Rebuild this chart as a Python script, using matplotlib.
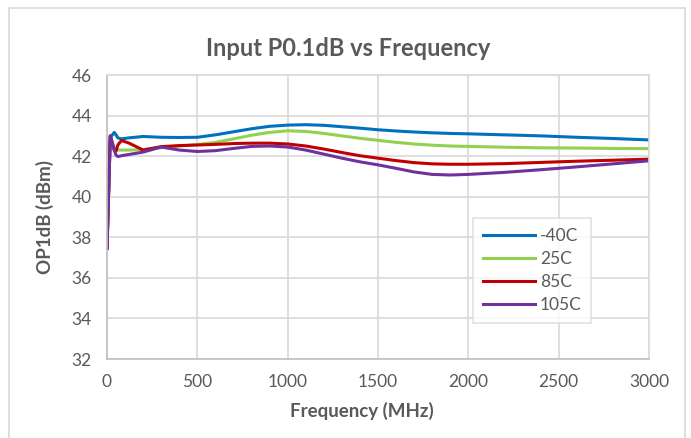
import matplotlib.pyplot as plt
from matplotlib.patches import Rectangle

plt.rcParams['font.family'] = ['Lato', 'DejaVu Sans']

freq = [0, 18, 40, 50, 60, 80, 120, 200, 300, 400, 500, 600, 700, 800, 900, 1000,
        1100, 1200, 1300, 1400, 1500, 1600, 1700, 1800, 1900, 2000, 2200, 2400,
        2600, 2800, 3000]

t_m40 = [37.45, 42.9, 43.17, 43.05, 42.9, 42.85, 42.9, 42.97, 42.93, 42.92, 42.93,
         43.05, 43.2, 43.35, 43.47, 43.53, 43.55, 43.52, 43.45, 43.38, 43.3, 43.24,
         43.19, 43.15, 43.12, 43.1, 43.05, 43.0, 42.93, 42.87, 42.8]
t_25 = [37.45, 43.0, 42.4, 42.3, 42.3, 42.3, 42.3, 42.32, 42.42, 42.5, 42.57, 42.68,
        42.85, 43.03, 43.17, 43.25, 43.22, 43.12, 43.0, 42.88, 42.78, 42.68, 42.6,
        42.54, 42.5, 42.48, 42.44, 42.41, 42.4, 42.38, 42.37]
t_85 = [37.45, 43.0, 42.3, 42.25, 42.55, 42.77, 42.65, 42.3, 42.47, 42.52, 42.55,
        42.58, 42.62, 42.64, 42.64, 42.6, 42.5, 42.35, 42.18, 42.02, 41.9, 41.78,
        41.68, 41.62, 41.6, 41.6, 41.63, 41.69, 41.75, 41.8, 41.85]
t_105 = [37.45, 43.0, 42.3, 42.05, 41.98, 42.02, 42.08, 42.2, 42.45, 42.3, 42.23,
         42.27, 42.38, 42.48, 42.5, 42.45, 42.3, 42.1, 41.9, 41.72, 41.57, 41.4,
         41.22, 41.1, 41.07, 41.1, 41.2, 41.33, 41.47, 41.62, 41.77]

series = [('-40C', t_m40, '#0070C0'), ('25C', t_25, '#92D050'),
          ('85C', t_85, '#C00000'), ('105C', t_105, '#7030A0')]

W, H = 691, 438
fig = plt.figure(figsize=(W / 100, H / 100), dpi=100)
ax = fig.add_axes([107 / W, 79 / H, 542 / W, 284 / H])

# chart border
fig.patches.append(Rectangle((9 / W, -0.05), 676 / W, 1.05 - 8 / H,
                             transform=fig.transFigure, fill=False,
                             edgecolor='#d9d9d9', lw=1.2))

for name, vals, col in series:
    ax.plot(freq, vals, color=col, lw=2.2, label=name, solid_joinstyle='round')

ax.set_xlim(0, 3000)
ax.set_ylim(32, 46)
ax.set_xticks(range(0, 3001, 500))
ax.set_yticks(range(32, 47, 2))
ax.grid(True, color='#d9d9d9', lw=1.2)
ax.set_axisbelow(True)
for s in ax.spines.values():
    s.set_color('#d9d9d9')
    s.set_linewidth(1.2)
ax.spines['left'].set_color('#bfbfbf')
ax.spines['bottom'].set_color('#bfbfbf')
ax.tick_params(length=0, labelsize=12.5, labelcolor='#595959', pad=11)

fig.text(348 / W, 1 - 48 / H, 'Input P0.1dB vs Frequency', fontsize=17,
         fontweight='bold', color='#595959', ha='center', va='center')
fig.text(362 / W, 1 - 411 / H, 'Frequency (MHz)', fontsize=13.5,
         fontweight='bold', color='#595959', ha='center', va='center')
fig.text(45 / W, 1 - 217 / H, 'OP1dB (dBm)', fontsize=13.5, rotation=90,
         fontweight='bold', color='#595959', ha='center', va='center')

leg = ax.legend(loc='lower left', bbox_to_anchor=(366 / 542, 36 / 284),
                borderaxespad=0, fontsize=12.5, frameon=True, fancybox=False,
                handlelength=3.0, labelspacing=0.42, borderpad=0.55,
                handletextpad=0.3)
leg.get_frame().set_edgecolor('#d9d9d9')
leg.get_frame().set_linewidth(1.2)
for t in leg.get_texts():
    t.set_color('#595959')

fig.savefig('out.png', dpi=100)
